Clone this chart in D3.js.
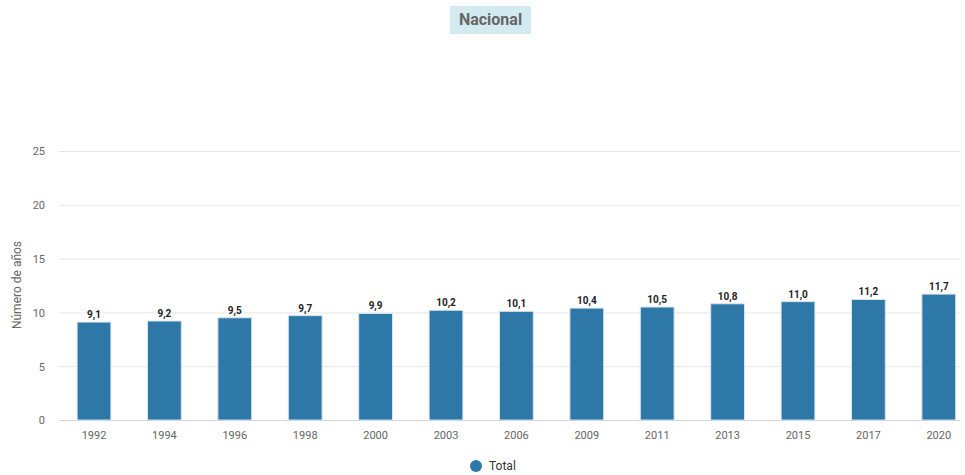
<!DOCTYPE html>
<html lang="es">
<head>
<meta charset="UTF-8">
<title>Nacional</title>
<script src="https://d3js.org/d3.v7.min.js"></script>
<style>
    body { margin: 0; font-family: Roboto, Arial, sans-serif; background: #fff; }
    .grid line { stroke: #e6e6e6; }
    .tick text { fill: #666; font-size: 11px; }
    .bar-label { font-size: 10px; font-weight: bold; fill: #222; text-anchor: middle; }
</style>
</head>
<body>
<div id="chart"></div>
<script>
const years = ["1992", "1994", "1996", "1998", "2000", "2003", "2006", "2009", "2011", "2013", "2015", "2017", "2020"];
const totals = [9.1, 9.2, 9.5, 9.7, 9.9, 10.2, 10.1, 10.4, 10.5, 10.8, 11.0, 11.2, 11.7];
const yTicks = [0, 5, 10, 15, 20, 25];

const width = 965, height = 475;
const svg = d3.select("#chart").append("svg")
    .attr("width", width).attr("height", height);

// plot area runs a little past the right edge, as in the original
const x = d3.scaleBand().domain(years).range([58.8, 974])
    .paddingInner(0.52).paddingOuter(0.26);
const y = d3.scaleLinear().domain([0, 25]).range([420, 151]);

// grid
svg.append("g").attr("class", "grid")
    .selectAll("line").data(yTicks.slice(1)).enter().append("line")
    .attr("x1", 59).attr("x2", 960)
    .attr("y1", d => y(d) + 0.5).attr("y2", d => y(d) + 0.5);

// y axis labels
const yAxis = svg.append("g").attr("transform", "translate(45,0)")
    .call(d3.axisLeft(y).tickValues(yTicks).tickSize(0).tickPadding(0));
yAxis.select(".domain").remove();
yAxis.selectAll("text").attr("dy", "0.35em").style("font-family", "Roboto, Arial, sans-serif");

svg.append("text")
    .attr("transform", "translate(21,285) rotate(-90)")
    .attr("text-anchor", "middle")
    .style("font-size", "12px").style("fill", "#666")
    .text("Número de años");

// bars
svg.selectAll(".bar").data(years).enter().append("rect")
    .attr("class", "bar")
    .attr("x", d => x(d))
    .attr("width", x.bandwidth())
    .attr("y", (d, i) => y(totals[i]))
    .attr("height", (d, i) => y(0) - y(totals[i]))
    .attr("fill", "#2e78a8")
    .attr("stroke", "#d8e4ee").attr("stroke-width", 1);

svg.selectAll(".bar-label").data(years).enter().append("text")
    .attr("class", "bar-label")
    .attr("x", d => x(d) + x.bandwidth() / 2)
    .attr("y", (d, i) => y(totals[i]) - 4)
    .text((d, i) => totals[i].toFixed(1).replace(".", ","));

// x axis
const xAxis = svg.append("g").attr("transform", "translate(0,420)")
    .call(d3.axisBottom(x).tickSize(0).tickPadding(11));
xAxis.select(".domain").remove();
xAxis.selectAll("text").style("font-family", "Roboto, Arial, sans-serif");
svg.append("line")
    .attr("x1", 59).attr("x2", 960).attr("y1", 420.5).attr("y2", 420.5)
    .attr("stroke", "#ccd6eb").attr("stroke-width", 1);

// title
svg.append("rect").attr("x", 450).attr("y", 6).attr("width", 81).attr("height", 28)
    .attr("fill", "#d3ebf0");
svg.append("text").attr("x", 490.5).attr("y", 25)
    .attr("text-anchor", "middle")
    .style("font-size", "16px").style("font-weight", "bold").style("fill", "#666")
    .text("Nacional");

// legend
svg.append("circle").attr("cx", 476).attr("cy", 466).attr("r", 6).attr("fill", "#2e78a8");
svg.append("text").attr("x", 489).attr("y", 470)
    .style("font-size", "12px").style("fill", "#333")
    .text("Total");
</script>
</body>
</html>
